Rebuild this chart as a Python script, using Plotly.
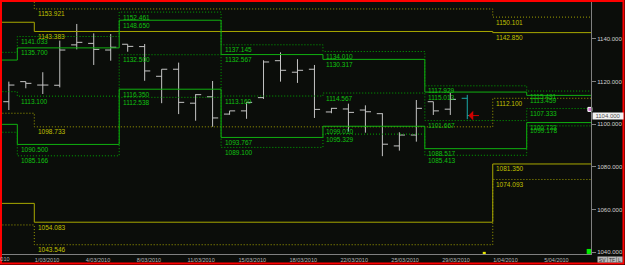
import plotly.graph_objects as go

# ---------------- data ----------------
sessions = ["21/02/2010", "22/02/2010", "23/02/2010", "24/02/2010", "25/02/2010", "26/02/2010",
            "28/02/2010", "1/03/2010", "2/03/2010", "3/03/2010", "4/03/2010", "5/03/2010",
            "7/03/2010", "8/03/2010", "9/03/2010", "10/03/2010", "11/03/2010", "12/03/2010",
            "14/03/2010", "15/03/2010", "16/03/2010", "17/03/2010", "18/03/2010", "19/03/2010",
            "21/03/2010", "22/03/2010", "23/03/2010", "24/03/2010", "25/03/2010", "26/03/2010",
            "28/03/2010", "29/03/2010", "30/03/2010", "31/03/2010", "1/04/2010", "2/04/2010",
            "4/04/2010", "5/04/2010", "6/04/2010", "7/04/2010", "8/04/2010", "9/04/2010"]

bar_dates = sessions[5:33]
opens = [1110.5, 1119.9, 1118.3, 1118.2, 1137.1, 1137.8, 1134.7, 1137.4, 1136.3, 1122.4,
         1125.7, 1109.8, 1112.8, 1104.7, 1106.2, 1112.4, 1129.7, 1124.3, 1125.7, 1105.7,
         1107.1, 1106.6, 1104.9, 1089.8, 1094.9, 1110.5, 1107.0, 1112.1]
highs = [1119.9, 1119.9, 1124.3, 1139.1, 1146.9, 1142.5, 1142.2, 1137.4, 1137.5, 1125.7,
         1128.8, 1114.0, 1120.2, 1106.2, 1110.2, 1129.9, 1133.6, 1130.4, 1127.7, 1107.6,
         1109.6, 1108.8, 1105.1, 1096.2, 1111.3, 1110.5, 1114.7, 1113.7]
lows = [1106.6, 1116.8, 1114.1, 1117.2, 1135.0, 1127.7, 1129.7, 1133.9, 1120.3, 1109.8,
        1104.7, 1101.6, 1098.8, 1104.4, 1102.5, 1111.8, 1119.9, 1119.3, 1102.9, 1105.1,
        1096.5, 1096.0, 1085.0, 1087.6, 1091.8, 1104.3, 1104.3, 1102.3]
closes = [1118.3, 1119.1, 1118.3, 1134.7, 1138.3, 1135.0, 1136.0, 1136.4, 1124.9, 1125.7,
          1110.2, 1113.8, 1102.9, 1106.2, 1110.2, 1129.1, 1125.2, 1125.2, 1106.9, 1107.4,
          1105.5, 1105.8, 1090.6, 1094.9, 1107.4, 1106.2, 1111.6, 1104.0]

# weekly levels (green)
week_starts = ["21/02/2010", "28/02/2010", "7/03/2010", "14/03/2010", "21/03/2010", "28/03/2010", "4/04/2010"]
wk_A = [1133.6, 1141.033, 1152.461, 1137.145, 1134.010, 1117.929, 1115.491]
wk_B = [1130.0, 1135.700, 1148.650, 1132.567, 1130.317, 1115.013, 1113.459]
wk_C = [1115.2, 1113.100, 1132.500, 1113.160, 1114.567, 1101.667, 1107.333]
wk_D = [1099.9, 1090.500, 1116.350, 1093.767, 1099.010, 1088.517, 1100.723]
wk_E = [1096.2, 1085.166, 1112.538, 1089.100, 1095.329, 1085.413, 1099.178]

# monthly levels (yellow)
month_starts = ["21/02/2010", "1/03/2010", "1/04/2010"]
mo_A = [1162.0, 1153.921, 1150.101]
mo_B = [1147.7, 1143.383, 1142.850]
mo_C = [1105.1, 1098.733, 1112.100]
mo_D = [1062.9, 1054.083, 1081.350]
mo_E = [1052.8, 1043.546, 1074.093]

tick_labels = ["1/03/2010", "4/03/2010", "8/03/2010", "11/03/2010", "15/03/2010", "18/03/2010",
               "22/03/2010", "25/03/2010", "29/03/2010", "1/04/2010", "5/04/2010"]
y_ticks = [1040, 1060, 1080, 1100, 1120, 1140]
last_price = 1104.0

# ---------------- styling ----------------
BG = "#0b0d0a"
G_SOLID, G_DOT, G_TXT = "#10b010", "#00a800", "#10c010"
Y_SOLID, Y_DOT, Y_TXT = "#a8a800", "#a0a000", "#c0c000"
BAR = "#c4c4c4"
FONT = "Liberation Sans"
DOT = "1px,2px"

idx = {d: i for i, d in enumerate(sessions)}
X0, X1 = 5.098, 39.786
Y0, Y1 = 1039.2, 1157.18

fig = go.Figure()


def step(starts, vals, end, color, dash, width=1):
    xs = [idx[s] for s in starts] + [end]
    ys = list(vals) + [vals[-1]]
    fig.add_trace(go.Scatter(x=xs, y=ys, mode="lines", line_shape="hv",
                             line=dict(color=color, width=width, dash=dash),
                             hoverinfo="skip", showlegend=False))


end_x = len(sessions)
for vals, solid in [(mo_A, False), (mo_B, True), (mo_C, False), (mo_D, True), (mo_E, False)]:
    step(month_starts, vals, end_x, Y_SOLID if solid else Y_DOT, "solid" if solid else DOT)
for vals, solid in [(wk_A, False), (wk_B, True), (wk_C, False), (wk_D, True), (wk_E, False)]:
    step(week_starts, vals, end_x, G_SOLID if solid else G_DOT, "solid" if solid else DOT)

annotations = []


def labels(starts, series, color):
    for vals in series:
        for s, v in list(zip(starts, vals))[1:]:
            annotations.append(dict(x=idx[s], y=v, xref="x", yref="y", text=f"{v:.3f}",
                                    showarrow=False, xanchor="left", yanchor="middle",
                                    xshift=1.5, yshift=-5,
                                    font=dict(family=FONT, size=6.5, color=color)))


labels(month_starts, [mo_A, mo_B, mo_C, mo_D, mo_E], Y_TXT)
labels(week_starts, [wk_A, wk_B, wk_C, wk_D, wk_E], G_TXT)

# OHLC bars
bx = [idx[d] + 0.5 for d in bar_dates]
n = len(bx) - 1
fig.add_trace(go.Ohlc(x=bx[:n], open=opens[:n], high=highs[:n], low=lows[:n], close=closes[:n],
                      increasing_line_color=BAR, decreasing_line_color=BAR,
                      line_width=1, tickwidth=0.33, hoverinfo="skip", showlegend=False))
fig.add_trace(go.Ohlc(x=bx[n:], open=opens[n:], high=highs[n:], low=lows[n:], close=closes[n:],
                      increasing_line_color="#1aa8a8", decreasing_line_color="#1aa8a8",
                      line_width=1, tickwidth=0.33, hoverinfo="skip", showlegend=False))

# small markers
fig.add_trace(go.Scatter(x=[39.72], y=[1106.9], mode="markers", cliponaxis=False,
                         marker=dict(symbol="square", size=4, color="#d070d0",
                                     line=dict(color="#ffffff", width=1)),
                         hoverinfo="skip", showlegend=False))
fig.add_trace(go.Scatter(x=[39.68], y=[1040.4], mode="markers", cliponaxis=False,
                         marker=dict(symbol="square", size=5, color="#00ee00", line=dict(width=0)),
                         hoverinfo="skip", showlegend=False))
fig.add_trace(go.Scatter(x=[33.5], y=[1039.5], mode="markers", cliponaxis=False,
                         marker=dict(symbol="square", size=3, color="#e8e800", line=dict(width=0)),
                         hoverinfo="skip", showlegend=False))

# arrow at last price
annotations.append(dict(x=bx[-1] + 0.07, y=last_price, xref="x", yref="y", text="",
                        showarrow=True, ax=12, ay=0, arrowhead=1, arrowsize=1.6,
                        arrowwidth=1, arrowcolor="#d00000", standoff=0))
# last price box
annotations.append(dict(x=1, y=last_price, xref="paper", yref="y", text=f"{last_price:.3f}",
                        showarrow=False, xanchor="left", yanchor="middle", xshift=1,
                        width=30, height=6, borderpad=0, bgcolor="#f2f2f2",
                        font=dict(family=FONT, size=6, color="#555555")))

PW, PH, ML, MB = 589, 252, 2, 11


def px(xp):
    return (xp - ML) / PW


def py(yp):
    return (254 - yp) / PH


# clipped first date label
annotations.append(dict(x=px(11.5), y=py(259), xref="paper", yref="paper", text="25/02/2010",
                        showarrow=False, xanchor="right", yanchor="middle",
                        font=dict(family=FONT, size=5.5, color="#b4b4b4")))
# buttons
for t, a, b in [("SV", 598, 607), ("TF", 608, 616), ("L", 617, 622)]:
    annotations.append(dict(x=px((a + b) / 2), y=py(259), xref="paper", yref="paper", text=t,
                            showarrow=False, xanchor="center", yanchor="middle",
                            width=b - a, height=5, borderpad=0, bgcolor="#b8b8b8",
                            font=dict(family=FONT, size=5, color="#333333")))

fig.update_layout(
    width=625, height=265,
    margin=dict(l=ML, r=34, t=2, b=MB, pad=0),
    paper_bgcolor=BG, plot_bgcolor=BG,
    showlegend=False,
    annotations=annotations,
    shapes=[dict(type="rect", xref="paper", yref="paper",
                 x0=px(1), x1=px(623.5), y0=py(263.5), y1=py(1),
                 line=dict(color="#ff0000", width=2), layer="above")],
    xaxis=dict(range=[X0, X1], showgrid=False, zeroline=False, rangeslider=dict(visible=False),
               showline=True, linecolor="#808080", linewidth=1,
               tickvals=[idx[t] for t in tick_labels], ticktext=tick_labels,
               ticklabelposition="outside right", ticks="", ticklen=0,
               tickfont=dict(family=FONT, size=5.5, color="#b4b4b4")),
    yaxis=dict(range=[Y0, Y1], side="right", showgrid=False, zeroline=False,
               showline=True, linecolor="#808080", linewidth=1,
               tickvals=y_ticks, tickformat=".3f", ticks="outside", ticklen=4,
               tickcolor="#808080",
               tickfont=dict(family=FONT, size=6, color="#d0d0d0")),
)

fig.write_html("out.html")
